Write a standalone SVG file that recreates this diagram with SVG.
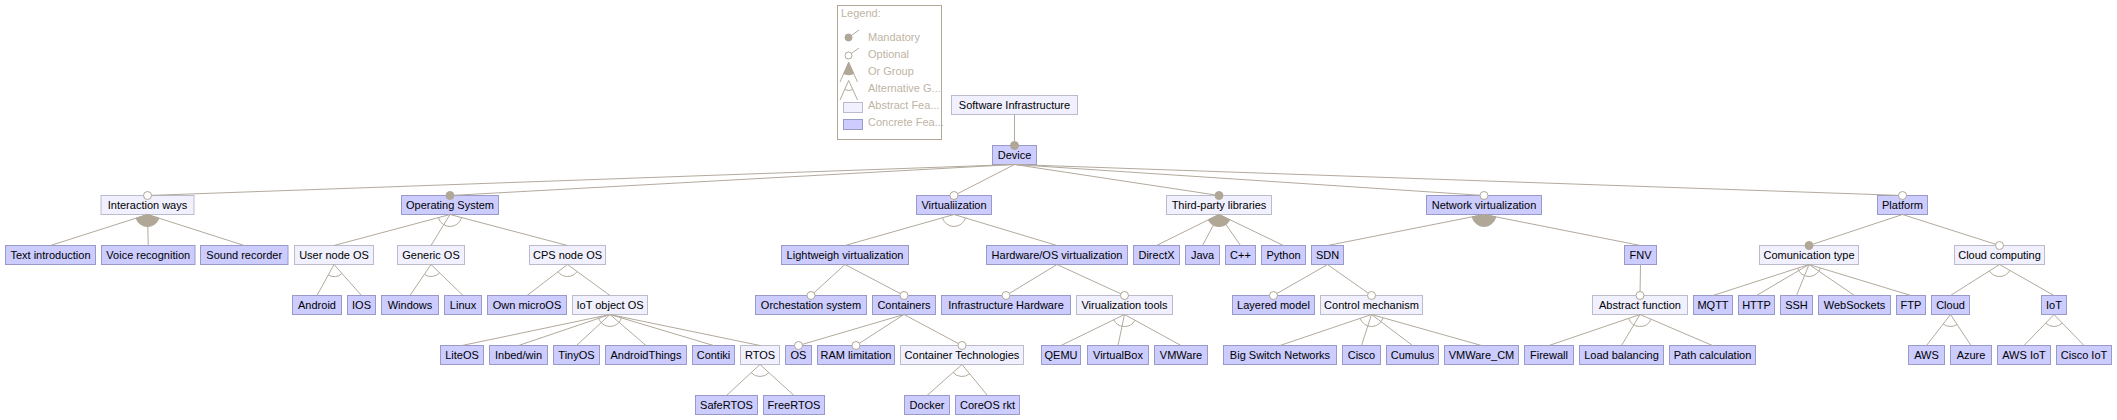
<svg xmlns="http://www.w3.org/2000/svg" width="2117" height="420" viewBox="0 0 2117 420">
<style>
.a{fill:#f0f0fe;stroke:#bbbbcc;stroke-width:1}
.c{fill:#ccccff;stroke:#9a9ac9;stroke-width:1}
text{font-family:"Liberation Sans",Arial,sans-serif;font-size:11px;fill:#000}
.t{text-anchor:middle}
.e{fill:none;stroke:#b3aa9d;stroke-width:1}
.m{fill:#b0a797;stroke:#b0a797;stroke-width:1}
.o{fill:#fff;stroke:#b0a797;stroke-width:1}
.alt{fill:none;stroke:#b3aa9d;stroke-width:1}
.or{fill:#b0a797;stroke:#b0a797;stroke-width:1}
.lg{fill:#c0b4a4}
</style>
<rect width="2117" height="420" fill="#fff"/>
<g id="legend">
<rect x="837.5" y="5.5" width="104" height="134" fill="#fff" stroke="#b0a797"/>
<text class="lg" x="841" y="17">Legend:</text>
<line class="e" x1="848.5" y1="37.5" x2="859" y2="30"/>
<circle class="m" cx="848.5" cy="37.5" r="3.5"/>
<text class="lg" x="868" y="41">Mandatory</text>
<line class="e" x1="848.5" y1="55.5" x2="859" y2="48"/>
<circle class="o" cx="848.5" cy="55.5" r="3.5"/>
<text class="lg" x="868" y="58">Optional</text>
<path class="e" d="M840,82 L848.7,62.5 L857.5,82"/>
<path class="or" d="M848.7,62.5 L843.7,73.7 A12,12 0 0 0 853.6,73.7 Z"/>
<text class="lg" x="868" y="75">Or Group</text>
<path class="e" d="M840,100 L848.7,80.5 L857.5,100"/>
<path class="alt" d="M844.6,89.6 A10,10 0 0 0 852.8,89.6"/>
<text class="lg" x="868" y="92">Alternative G...</text>
<rect class="a" x="843.5" y="102.5" width="19" height="10"/>
<text class="lg" x="868" y="109">Abstract Fea...</text>
<rect class="c" x="843.5" y="119.5" width="19" height="10"/>
<text class="lg" x="868" y="126">Concrete Fea...</text>
</g>
<g id="nodes">
<g id="n-software-infrastructure"><rect class="a" x="951.5" y="95.5" width="126" height="19"/><text class="t" x="1014.5" y="109">Software Infrastructure</text></g>
<g id="n-device"><rect class="c" x="992.5" y="145.5" width="44" height="19"/><text class="t" x="1014.5" y="159">Device</text></g>
<g id="n-interaction-ways"><rect class="a" x="101" y="195.5" width="93" height="19"/><text class="t" x="147.5" y="209">Interaction ways</text></g>
<g id="n-operating-system"><rect class="c" x="401.5" y="195.5" width="97" height="19"/><text class="t" x="450" y="209">Operating System</text></g>
<g id="n-virtualiization"><rect class="c" x="916.5" y="195.5" width="75" height="19"/><text class="t" x="954" y="209">Virtualiization</text></g>
<g id="n-third-party-libraries"><rect class="a" x="1166.5" y="195.5" width="105" height="19"/><text class="t" x="1219" y="209">Third-party libraries</text></g>
<g id="n-network-virtualization"><rect class="c" x="1426.5" y="195.5" width="115" height="19"/><text class="t" x="1484" y="209">Network virtualization</text></g>
<g id="n-platform"><rect class="c" x="1877.5" y="195.5" width="50" height="19"/><text class="t" x="1902.5" y="209">Platform</text></g>
<g id="n-text-introduction"><rect class="c" x="5.5" y="245.5" width="90" height="19"/><text class="t" x="50.5" y="259">Text introduction</text></g>
<g id="n-voice-recognition"><rect class="c" x="101.5" y="245.5" width="93.5" height="19"/><text class="t" x="148.25" y="259">Voice recognition</text></g>
<g id="n-sound-recorder"><rect class="c" x="200.5" y="245.5" width="87.5" height="19"/><text class="t" x="244.25" y="259">Sound recorder</text></g>
<g id="n-user-node-os"><rect class="a" x="294.5" y="245.5" width="79" height="19"/><text class="t" x="334" y="259">User node OS</text></g>
<g id="n-generic-os"><rect class="a" x="397.5" y="245.5" width="67" height="19"/><text class="t" x="431" y="259">Generic OS</text></g>
<g id="n-cps-node-os"><rect class="a" x="529.5" y="245.5" width="76" height="19"/><text class="t" x="567.5" y="259">CPS node OS</text></g>
<g id="n-lightweigh-virtualization"><rect class="c" x="781.5" y="245.5" width="127" height="19"/><text class="t" x="845" y="259">Lightweigh virtualization</text></g>
<g id="n-hardware-os-virtualization"><rect class="c" x="986.5" y="245.5" width="141" height="19"/><text class="t" x="1057" y="259">Hardware/OS virtualization</text></g>
<g id="n-directx"><rect class="c" x="1133.5" y="245.5" width="46" height="19"/><text class="t" x="1156.5" y="259">DirectX</text></g>
<g id="n-java"><rect class="c" x="1185.5" y="245.5" width="34" height="19"/><text class="t" x="1202.5" y="259">Java</text></g>
<g id="n-cpp"><rect class="c" x="1225.5" y="245.5" width="30" height="19"/><text class="t" x="1240.5" y="259">C++</text></g>
<g id="n-python"><rect class="c" x="1261.5" y="245.5" width="44" height="19"/><text class="t" x="1283.5" y="259">Python</text></g>
<g id="n-sdn"><rect class="c" x="1311.5" y="245.5" width="32" height="19"/><text class="t" x="1327.5" y="259">SDN</text></g>
<g id="n-fnv"><rect class="c" x="1624.5" y="245.5" width="32" height="19"/><text class="t" x="1640.5" y="259">FNV</text></g>
<g id="n-comunication-type"><rect class="a" x="1759.5" y="245.5" width="99" height="19"/><text class="t" x="1809" y="259">Comunication type</text></g>
<g id="n-cloud-computing"><rect class="a" x="1954.5" y="245.5" width="90" height="19"/><text class="t" x="1999.5" y="259">Cloud computing</text></g>
<g id="n-android"><rect class="c" x="292.5" y="295.5" width="49" height="19"/><text class="t" x="317" y="309">Android</text></g>
<g id="n-ios"><rect class="c" x="347.5" y="295.5" width="28" height="19"/><text class="t" x="361.5" y="309">IOS</text></g>
<g id="n-windows"><rect class="c" x="381.5" y="295.5" width="57" height="19"/><text class="t" x="410" y="309">Windows</text></g>
<g id="n-linux"><rect class="c" x="444.5" y="295.5" width="37" height="19"/><text class="t" x="463" y="309">Linux</text></g>
<g id="n-own-microos"><rect class="c" x="487.5" y="295.5" width="79" height="19"/><text class="t" x="527" y="309">Own microOS</text></g>
<g id="n-iot-object-os"><rect class="a" x="572.5" y="295.5" width="75" height="19"/><text class="t" x="610" y="309">IoT object OS</text></g>
<g id="n-orchestation-system"><rect class="c" x="755.5" y="295.5" width="111" height="19"/><text class="t" x="811" y="309">Orchestation system</text></g>
<g id="n-containers"><rect class="c" x="872.5" y="295.5" width="63" height="19"/><text class="t" x="904" y="309">Containers</text></g>
<g id="n-infrastructure-hardware"><rect class="c" x="941.5" y="295.5" width="129" height="19"/><text class="t" x="1006" y="309">Infrastructure Hardware</text></g>
<g id="n-virualization-tools"><rect class="a" x="1076.5" y="295.5" width="96" height="19"/><text class="t" x="1124.5" y="309">Virualization tools</text></g>
<g id="n-layered-model"><rect class="c" x="1232.5" y="295.5" width="82" height="19"/><text class="t" x="1273.5" y="309">Layered model</text></g>
<g id="n-control-mechanism"><rect class="a" x="1320.5" y="295.5" width="102" height="19"/><text class="t" x="1371.5" y="309">Control mechanism</text></g>
<g id="n-abstract-function"><rect class="a" x="1592.5" y="295.5" width="95" height="19"/><text class="t" x="1640" y="309">Abstract function</text></g>
<g id="n-mqtt"><rect class="c" x="1693.5" y="295.5" width="39" height="19"/><text class="t" x="1713" y="309">MQTT</text></g>
<g id="n-http"><rect class="c" x="1738.5" y="295.5" width="36" height="19"/><text class="t" x="1756.5" y="309">HTTP</text></g>
<g id="n-ssh"><rect class="c" x="1780.5" y="295.5" width="32" height="19"/><text class="t" x="1796.5" y="309">SSH</text></g>
<g id="n-websockets"><rect class="c" x="1818.5" y="295.5" width="72" height="19"/><text class="t" x="1854.5" y="309">WebSockets</text></g>
<g id="n-ftp"><rect class="c" x="1896.5" y="295.5" width="29" height="19"/><text class="t" x="1911" y="309">FTP</text></g>
<g id="n-cloud"><rect class="c" x="1931.5" y="295.5" width="38" height="19"/><text class="t" x="1950.5" y="309">Cloud</text></g>
<g id="n-iot"><rect class="c" x="2041.5" y="295.5" width="25" height="19"/><text class="t" x="2054" y="309">IoT</text></g>
<g id="n-liteos"><rect class="c" x="440.5" y="345.5" width="43" height="19"/><text class="t" x="462" y="359">LiteOS</text></g>
<g id="n-inbed-win"><rect class="c" x="489.5" y="345.5" width="58" height="19"/><text class="t" x="518.5" y="359">Inbed/win</text></g>
<g id="n-tinyos"><rect class="c" x="553.5" y="345.5" width="46" height="19"/><text class="t" x="576.5" y="359">TinyOS</text></g>
<g id="n-androidthings"><rect class="c" x="605.5" y="345.5" width="81" height="19"/><text class="t" x="646" y="359">AndroidThings</text></g>
<g id="n-contiki"><rect class="c" x="692.5" y="345.5" width="42" height="19"/><text class="t" x="713.5" y="359">Contiki</text></g>
<g id="n-rtos"><rect class="a" x="740.5" y="345.5" width="39" height="19"/><text class="t" x="760" y="359">RTOS</text></g>
<g id="n-os"><rect class="c" x="785.5" y="345.5" width="26" height="19"/><text class="t" x="798.5" y="359">OS</text></g>
<g id="n-ram-limitation"><rect class="c" x="817.5" y="345.5" width="77" height="19"/><text class="t" x="856" y="359">RAM limitation</text></g>
<g id="n-container-technologies"><rect class="a" x="900.5" y="345.5" width="123" height="19"/><text class="t" x="962" y="359">Container Technologies</text></g>
<g id="n-qemu"><rect class="c" x="1041.5" y="345.5" width="39" height="19"/><text class="t" x="1061" y="359">QEMU</text></g>
<g id="n-virtualbox"><rect class="c" x="1087.5" y="345.5" width="61" height="19"/><text class="t" x="1118" y="359">VirtualBox</text></g>
<g id="n-vmware"><rect class="c" x="1154.5" y="345.5" width="53" height="19"/><text class="t" x="1181" y="359">VMWare</text></g>
<g id="n-big-switch-networks"><rect class="c" x="1223.5" y="345.5" width="113" height="19"/><text class="t" x="1280" y="359">Big Switch Networks</text></g>
<g id="n-cisco"><rect class="c" x="1342.5" y="345.5" width="38" height="19"/><text class="t" x="1361.5" y="359">Cisco</text></g>
<g id="n-cumulus"><rect class="c" x="1386.5" y="345.5" width="52" height="19"/><text class="t" x="1412.5" y="359">Cumulus</text></g>
<g id="n-vmware-cm"><rect class="c" x="1444.5" y="345.5" width="74" height="19"/><text class="t" x="1481.5" y="359">VMWare_CM</text></g>
<g id="n-firewall"><rect class="c" x="1524.5" y="345.5" width="49" height="19"/><text class="t" x="1549" y="359">Firewall</text></g>
<g id="n-load-balancing"><rect class="c" x="1579.5" y="345.5" width="84" height="19"/><text class="t" x="1621.5" y="359">Load balancing</text></g>
<g id="n-path-calculation"><rect class="c" x="1669.5" y="345.5" width="86" height="19"/><text class="t" x="1712.5" y="359">Path calculation</text></g>
<g id="n-aws"><rect class="c" x="1908.5" y="345.5" width="36" height="19"/><text class="t" x="1926.5" y="359">AWS</text></g>
<g id="n-azure"><rect class="c" x="1950.5" y="345.5" width="41" height="19"/><text class="t" x="1971" y="359">Azure</text></g>
<g id="n-aws-iot"><rect class="c" x="1997.5" y="345.5" width="53" height="19"/><text class="t" x="2024" y="359">AWS IoT</text></g>
<g id="n-cisco-iot"><rect class="c" x="2056.5" y="345.5" width="55" height="19"/><text class="t" x="2084" y="359">Cisco IoT</text></g>
<g id="n-safertos"><rect class="c" x="695.5" y="395.5" width="62" height="19"/><text class="t" x="726.5" y="409">SafeRTOS</text></g>
<g id="n-freertos"><rect class="c" x="763.5" y="395.5" width="61" height="19"/><text class="t" x="794" y="409">FreeRTOS</text></g>
<g id="n-docker"><rect class="c" x="904.5" y="395.5" width="45" height="19"/><text class="t" x="927" y="409">Docker</text></g>
<g id="n-coreos-rkt"><rect class="c" x="955.5" y="395.5" width="64" height="19"/><text class="t" x="987.5" y="409">CoreOS rkt</text></g>
</g>
<g id="connectors">
<path class="e" d="M1014.5,114.5 L1014.5,145.5
M1014.5,164.5 L147.5,195.5 M1014.5,164.5 L450,195.5 M1014.5,164.5 L954,195.5 M1014.5,164.5 L1219,195.5 M1014.5,164.5 L1484,195.5 M1014.5,164.5 L1902.5,195.5
M147.5,214.5 L50.5,245.5 M147.5,214.5 L148.25,245.5 M147.5,214.5 L244.25,245.5
M450,214.5 L334,245.5 M450,214.5 L431,245.5 M450,214.5 L567.5,245.5
M334,264.5 L317,295.5 M334,264.5 L361.5,295.5
M431,264.5 L410,295.5 M431,264.5 L463,295.5
M567.5,264.5 L527,295.5 M567.5,264.5 L610,295.5
M610,314.5 L462,345.5 M610,314.5 L518.5,345.5 M610,314.5 L576.5,345.5 M610,314.5 L646,345.5 M610,314.5 L713.5,345.5 M610,314.5 L760,345.5
M760,364.5 L726.5,395.5 M760,364.5 L794,395.5
M954,214.5 L845,245.5 M954,214.5 L1057,245.5
M845,264.5 L811,295.5 M845,264.5 L904,295.5
M1057,264.5 L1006,295.5 M1057,264.5 L1124.5,295.5
M904,314.5 L798.5,345.5 M904,314.5 L856,345.5 M904,314.5 L962,345.5
M962,364.5 L927,395.5 M962,364.5 L987.5,395.5
M1124.5,314.5 L1061,345.5 M1124.5,314.5 L1118,345.5 M1124.5,314.5 L1181,345.5
M1219,214.5 L1156.5,245.5 M1219,214.5 L1202.5,245.5 M1219,214.5 L1240.5,245.5 M1219,214.5 L1283.5,245.5
M1484,214.5 L1327.5,245.5 M1484,214.5 L1640.5,245.5
M1327.5,264.5 L1273.5,295.5 M1327.5,264.5 L1371.5,295.5
M1371.5,314.5 L1280,345.5 M1371.5,314.5 L1361.5,345.5 M1371.5,314.5 L1412.5,345.5 M1371.5,314.5 L1481.5,345.5
M1640.5,264.5 L1640,295.5
M1640,314.5 L1549,345.5 M1640,314.5 L1621.5,345.5 M1640,314.5 L1712.5,345.5
M1902.5,214.5 L1809,245.5 M1902.5,214.5 L1999.5,245.5
M1809,264.5 L1713,295.5 M1809,264.5 L1756.5,295.5 M1809,264.5 L1796.5,295.5 M1809,264.5 L1854.5,295.5 M1809,264.5 L1911,295.5
M1999.5,264.5 L1950.5,295.5 M1999.5,264.5 L2054,295.5
M1950.5,314.5 L1926.5,345.5 M1950.5,314.5 L1971,345.5
M2054,314.5 L2024,345.5 M2054,314.5 L2084,345.5"/>
<path class="or" d="M147.5,214.5 L136.07,218.15 A12,12 0 0 0 158.93,218.16 Z"/>
<path class="or" d="M1219,214.5 L1208.25,219.83 A12,12 0 0 0 1229.82,219.7 Z"/>
<path class="or" d="M1484,214.5 L1472.23,216.83 A12,12 0 0 0 1495.77,216.83 Z"/>
<path class="alt" d="M438.41,217.6 A12,12 0 0 0 461.6,217.56"/>
<path class="alt" d="M328.23,275.02 A12,12 0 0 0 341.96,273.48"/>
<path class="alt" d="M424.27,274.44 A12,12 0 0 0 439.62,272.85"/>
<path class="alt" d="M557.97,271.79 A12,12 0 0 0 577.2,271.57"/>
<path class="alt" d="M598.25,316.96 A12,12 0 0 0 621.75,316.93"/>
<path class="alt" d="M751.19,372.65 A12,12 0 0 0 768.87,372.59"/>
<path class="alt" d="M942.46,217.78 A12,12 0 0 0 965.49,217.96"/>
<path class="alt" d="M953.02,372.46 A12,12 0 0 0 969.62,373.77"/>
<path class="alt" d="M1113.72,319.76 A12,12 0 0 0 1135.02,320.27"/>
<path class="alt" d="M1360.13,318.35 A12,12 0 0 0 1383.05,317.76"/>
<path class="alt" d="M1628.64,318.37 A12,12 0 0 0 1651.03,319.22"/>
<path class="alt" d="M1797.58,268.19 A12,12 0 0 0 1820.48,267.99"/>
<path class="alt" d="M1989.36,270.92 A12,12 0 0 0 2009.93,270.43"/>
<path class="alt" d="M1943.15,323.99 A12,12 0 0 0 1957.12,324.51"/>
<path class="alt" d="M2045.65,323.12 A12,12 0 0 0 2062.35,323.12"/>
<circle class="m" cx="1014.5" cy="145.5" r="4"/>
<circle class="o" cx="147.5" cy="195.5" r="4"/>
<circle class="m" cx="450" cy="195.5" r="4"/>
<circle class="o" cx="954" cy="195.5" r="4"/>
<circle class="m" cx="1219" cy="195.5" r="4"/>
<circle class="o" cx="1484" cy="195.5" r="4"/>
<circle class="o" cx="1902.5" cy="195.5" r="4"/>
<circle class="o" cx="811" cy="295.5" r="4"/>
<circle class="o" cx="904" cy="295.5" r="4"/>
<circle class="o" cx="1006" cy="295.5" r="4"/>
<circle class="o" cx="1124.5" cy="295.5" r="4"/>
<circle class="o" cx="798.5" cy="345.5" r="4"/>
<circle class="o" cx="856" cy="345.5" r="4"/>
<circle class="o" cx="962" cy="345.5" r="4"/>
<circle class="o" cx="1273.5" cy="295.5" r="4"/>
<circle class="o" cx="1371.5" cy="295.5" r="4"/>
<circle class="o" cx="1640" cy="295.5" r="4"/>
<circle class="m" cx="1809" cy="245.5" r="4"/>
<circle class="o" cx="1999.5" cy="245.5" r="4"/>
</g>
</svg>
